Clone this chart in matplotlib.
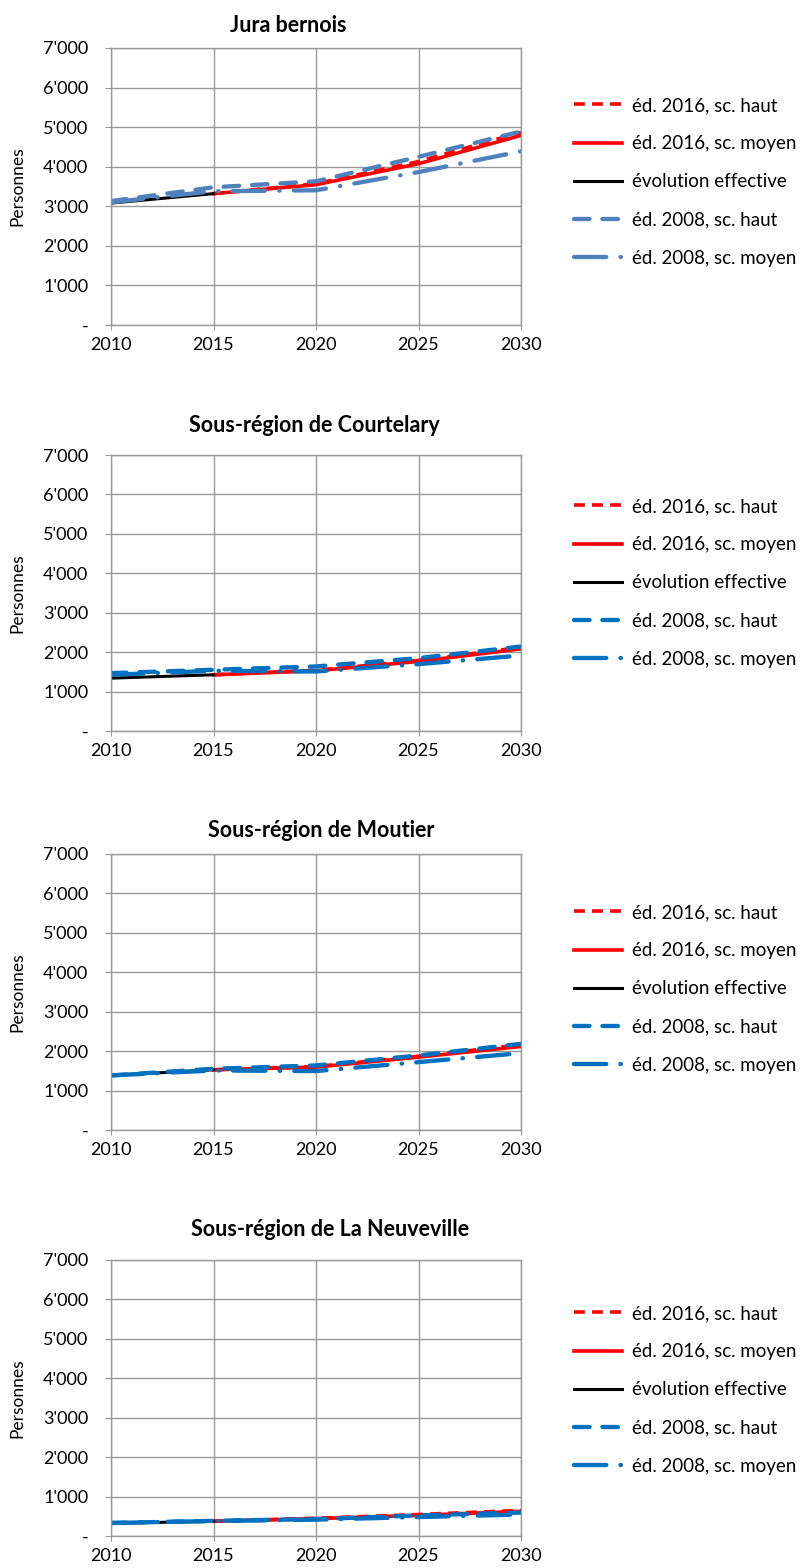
import matplotlib
matplotlib.use("Agg")
import matplotlib.pyplot as plt
from matplotlib.ticker import FuncFormatter, MultipleLocator

plt.rcParams['font.family'] = ['Lato', 'DejaVu Sans']

years = [2010, 2015, 2020, 2025, 2030]
years_eff = [2010, 2015]
years_2016 = [2015, 2020, 2025, 2030]

titles = ["Jura bernois", "Sous-région de Courtelary",
          "Sous-région de Moutier", "Sous-région de La Neuveville"]

# évolution effective
eff = [[3080, 3320], [1340, 1426], [1384, 1527], [320, 375]]
# éd. 2016, sc. haut / sc. moyen
ed2016_haut = [[3320, 3570, 4130, 4870], [1426, 1540, 1790, 2120],
               [1527, 1610, 1870, 2160], [375, 450, 545, 650]]
ed2016_moyen = [[3320, 3545, 4075, 4790], [1426, 1527, 1764, 2084],
                [1527, 1595, 1848, 2118], [375, 440, 525, 625]]
# éd. 2008, sc. haut / sc. moyen
ed2008_haut = [[3130, 3480, 3630, 4250, 4890], [1468, 1553, 1637, 1848, 2143],
               [1384, 1553, 1637, 1890, 2186], [330, 385, 430, 520, 595]]
ed2008_moyen = [[3100, 3380, 3405, 3865, 4390], [1426, 1527, 1510, 1696, 1916],
                [1384, 1510, 1494, 1722, 1950], [330, 380, 415, 480, 545]]

labels = ["éd. 2016, sc. haut", "éd. 2016, sc. moyen", "évolution effective",
          "éd. 2008, sc. haut", "éd. 2008, sc. moyen"]
blue_colors = ["#4F81BD", "#0070C0", "#0070C0", "#0070C0"]

W, H = 802, 1568
# pixel layout: y of 7'000 and of 0, title position
plot_tops = [48, 455, 854, 1260]
plot_bottoms = [325, 731, 1130, 1536]
title_pos = [(288, 25), (314, 425), (321, 831), (330, 1229)]
x_left, x_right = 111, 521
legend_first = [107, 508, 914, 1315]


def fmt(v, pos):
    if v == 0:
        return "-"
    return f"{int(v):,}".replace(",", "'")


fig = plt.figure(figsize=(W / 100, H / 100), dpi=100)
grid_col = "#999999"

for i in range(4):
    top, bot = plot_tops[i], plot_bottoms[i]
    ax = fig.add_axes([x_left / W, 1 - bot / H, (x_right - x_left) / W, (bot - top) / H])
    blue = blue_colors[i]
    l1, = ax.plot(years_2016, ed2016_haut[i], color="#FF0000", lw=2.6,
                  linestyle=(0, (3, 2)), dash_capstyle="butt")
    l2, = ax.plot(years_2016, ed2016_moyen[i], color="#FF0000", lw=2.6)
    l3, = ax.plot(years_eff, eff[i], color="black", lw=2.2)
    l4, = ax.plot(years, ed2008_haut[i], color=blue, lw=3.1,
                  linestyle=(0, (3.6, 3)), dash_capstyle="round")
    l5, = ax.plot(years, ed2008_moyen[i], color=blue, lw=3.1,
                  linestyle=(0, (7.5, 3.3, 0.1, 3.3)), dash_capstyle="round")

    ax.set_xlim(2010, 2030)
    ax.set_ylim(0, 7000)
    ax.xaxis.set_major_locator(MultipleLocator(5))
    ax.yaxis.set_major_locator(MultipleLocator(1000))
    ax.yaxis.set_major_formatter(FuncFormatter(fmt))
    ax.grid(True, color=grid_col, lw=1.0)
    ax.set_axisbelow(True)
    for s in ax.spines.values():
        s.set_color(grid_col)
        s.set_linewidth(1.0)
    ax.tick_params(axis="both", direction="out", color=grid_col, labelsize=13,
                   labelcolor="black")
    ax.tick_params(axis="y", length=4.3, pad=12)
    ax.tick_params(axis="x", length=3.5, pad=5)
    ax.set_ylabel("Personnes", fontsize=12.5)
    ax.yaxis.set_label_coords(-0.208, 0.5)

    tx, ty = title_pos[i]
    fig.text(tx / W, 1 - ty / H, titles[i], ha="center", va="center",
             fontsize=15.5, fontweight="bold")

    fig.legend([l1, l2, l3, l4, l5], labels, loc="upper left",
               bbox_to_anchor=(574 / W, 1 - (legend_first[i] - 10) / H),
               frameon=False, fontsize=13.5, handlelength=2.55,
               handletextpad=0.55, labelspacing=1.13, borderpad=0,
               borderaxespad=0)

fig.savefig("out.png", dpi=100)
